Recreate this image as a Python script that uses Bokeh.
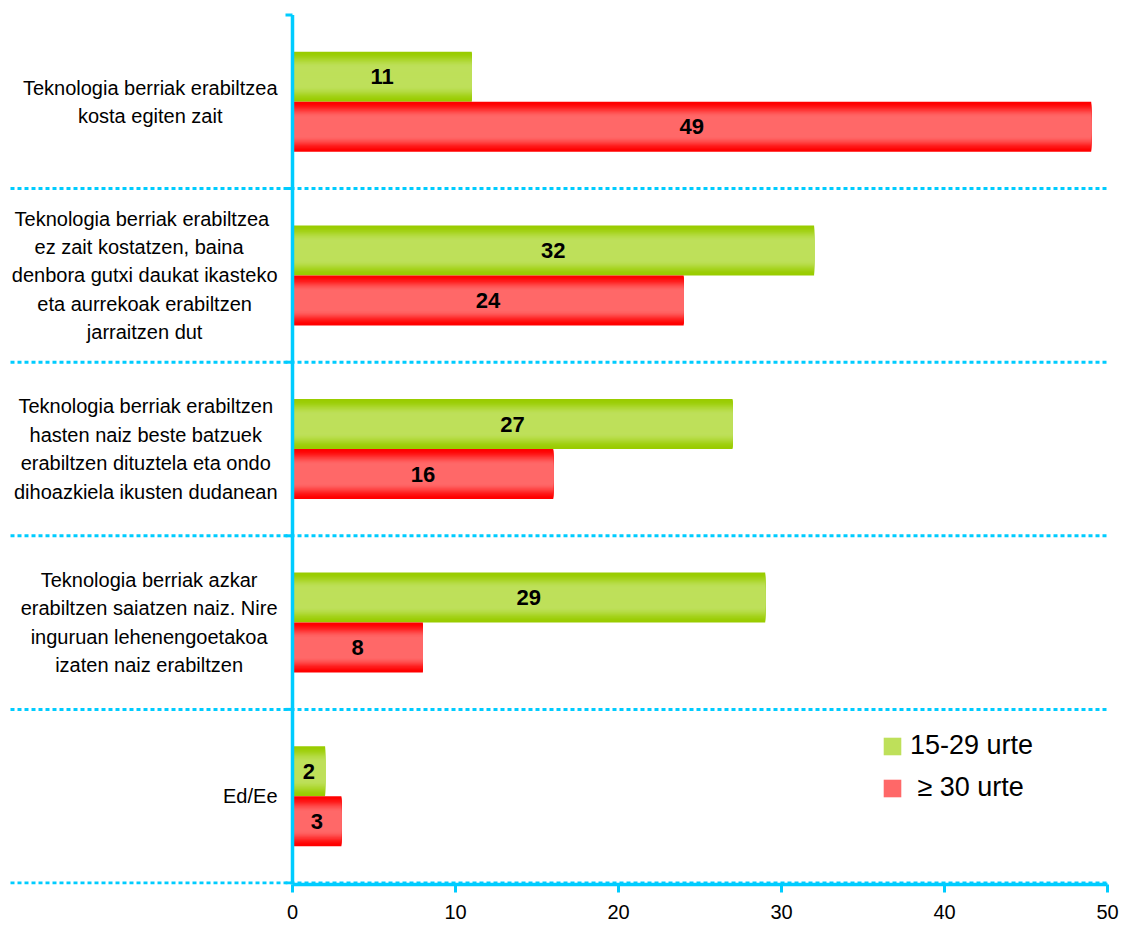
import numpy as np
from bokeh.plotting import figure
from bokeh.models import ColumnDataSource, Range1d, LinearAxis, FixedTicker, Legend, LegendItem
from bokeh.core.properties import value
from bokeh.embed import file_html
from bokeh.resources import INLINE

# ---------------- data ----------------
categories = [
    "Teknologia berriak erabiltzea\nkosta egiten zait",
    "Teknologia  berriak erabiltzea\nez  zait  kostatzen, baina\ndenbora gutxi daukat ikasteko\neta aurrekoak erabiltzen\njarraitzen dut",
    "Teknologia berriak erabiltzen\nhasten naiz beste batzuek\nerabiltzen dituztela eta ondo\ndihoazkiela ikusten dudanean",
    "Teknologia berriak azkar\nerabiltzen saiatzen naiz. Nire\ninguruan lehenengoetakoa\nizaten naiz erabiltzen",
    "Ed/Ee",
]
series_names = ["15-29 urte", " \u2265 30 urte"]
young = [11, 32, 27, 29, 2]
older = [49, 24, 16, 8, 3]
x_ticks = [0, 10, 20, 30, 40, 50]

# ---------------- style ----------------
FONT = "Liberation Sans"
CYAN = "#00CCFF"
GREEN_EDGE, GREEN_MID = (153, 204, 0), (190, 224, 90)
RED_EDGE, RED_MID = (255, 0, 0), (255, 104, 104)

FRAME_W, FRAME_H = 1123, 884
PX0, PX50 = 292.0, 1107.0            # frame pixels of x=0 and x=50
PPU = (PX50 - PX0) / 50.0
BAND_PX = 173.6
n_cat = len(categories)
BAR_H = 50.0 / BAND_PX
N_LAYER = 24

x_start = -PX0 / PPU
x_end = (FRAME_W - PX0) / PPU
y_bottom = n_cat + 1.5 / BAND_PX
y_top = y_bottom - FRAME_H / BAND_PX

p = figure(frame_width=FRAME_W, frame_height=FRAME_H,
           x_range=Range1d(x_start, x_end), y_range=Range1d(y_bottom, y_top),
           x_axis_type=None, y_axis_type=None,
           output_backend="svg", toolbar_location=None,
           min_border=0, outline_line_color=None,
           background_fill_color="white", border_fill_color="white")
p.xgrid.visible = False
p.ygrid.visible = False


def mix(a, b, f):
    return "#%02x%02x%02x" % tuple(int(round(a[j] + (b[j] - a[j]) * f)) for j in range(3))


def profile(d):
    # d: 1 at bar edge, 0 at bar centre
    u = min(1.0, (1 - d) / 0.6)
    return u * u * (3 - 2 * u)


def layers(values, centres, edge, mid):
    # nested bars, outermost first, each lighter than the previous one
    ys, rights, hs, cols = [], [], [], []
    for k in range(N_LAYER):
        d = 1 - k / N_LAYER
        for v, c in zip(values, centres):
            ys.append(c)
            rights.append(v)
            hs.append(BAR_H * d)
            cols.append(mix(edge, mid, profile(d)))
    return ColumnDataSource(dict(y=ys, right=rights, h=hs, color=cols))


centers = [i + 0.5 for i in range(n_cat)]
young_c = [c - BAR_H / 2 for c in centers]
older_c = [c + BAR_H / 2 for c in centers]

src_y = layers(young, young_c, GREEN_EDGE, GREEN_MID)
src_o = layers(older, older_c, RED_EDGE, RED_MID)
r_y = p.hbar(y="y", left=0, right="right", height="h", source=src_y,
             fill_color="color", line_color=None)
r_o = p.hbar(y="y", left=0, right="right", height="h", source=src_o,
             fill_color="color", line_color=None)

# value labels
for vals, cy in ((young, young_c), (older, older_c)):
    p.text(x=[v / 2 for v in vals], y=cy, text=[str(v) for v in vals],
           text_font=value(FONT), text_font_size="22px", text_font_style="bold",
           text_align="center", text_baseline="middle", text_color="black")

# category labels
p.text(x=[0] * n_cat, y=centers, text=categories, x_offset=-15,
       anchor=value("center_right"), text_align="center", text_baseline="middle",
       text_font=value(FONT), text_font_size="20px", text_line_height=1.29,
       text_color="black")

# separators (dotted), y axis and its ticks
bounds = list(range(n_cat + 1))
p.segment(x0=[(10 - PX0) / PPU] * n_cat, y0=bounds[1:], x1=[50] * n_cat, y1=bounds[1:],
          line_color=CYAN, line_width=3, line_dash="4 3")
p.segment(x0=[-7 / PPU] * len(bounds), y0=bounds, x1=[0] * len(bounds), y1=bounds,
          line_color=CYAN, line_width=3)
p.segment(x0=[0], y0=[0], x1=[0], y1=[n_cat + 1.5 / BAND_PX], line_color=CYAN, line_width=3.5)

# x axis
ax = LinearAxis(ticker=FixedTicker(ticks=x_ticks, minor_ticks=[]), bounds=(0, 50))
ax.axis_line_color = CYAN
ax.axis_line_width = 3.5
ax.major_tick_line_color = CYAN
ax.major_tick_line_width = 3
ax.major_tick_out = 8
ax.major_tick_in = 0
ax.minor_tick_line_color = None
ax.major_label_standoff = 12
ax.major_label_text_font = FONT
ax.major_label_text_font_size = "20px"
ax.major_label_text_color = "black"
p.add_layout(ax, "below")

# legend
legend = Legend(items=[LegendItem(label=series_names[0], renderers=[r_y], index=N_LAYER * n_cat - 1),
                       LegendItem(label=series_names[1], renderers=[r_o], index=N_LAYER * n_cat - 1)],
                location=(881, 81), orientation="vertical",
                glyph_width=22, glyph_height=22, label_height=22, label_standoff=7,
                spacing=11, padding=0, margin=0,
                label_text_font=FONT, label_text_font_size="27px", label_text_color="black",
                border_line_color=None, background_fill_alpha=0)
p.add_layout(legend, "center")

open("out.html", "w").write(file_html(p, INLINE))
